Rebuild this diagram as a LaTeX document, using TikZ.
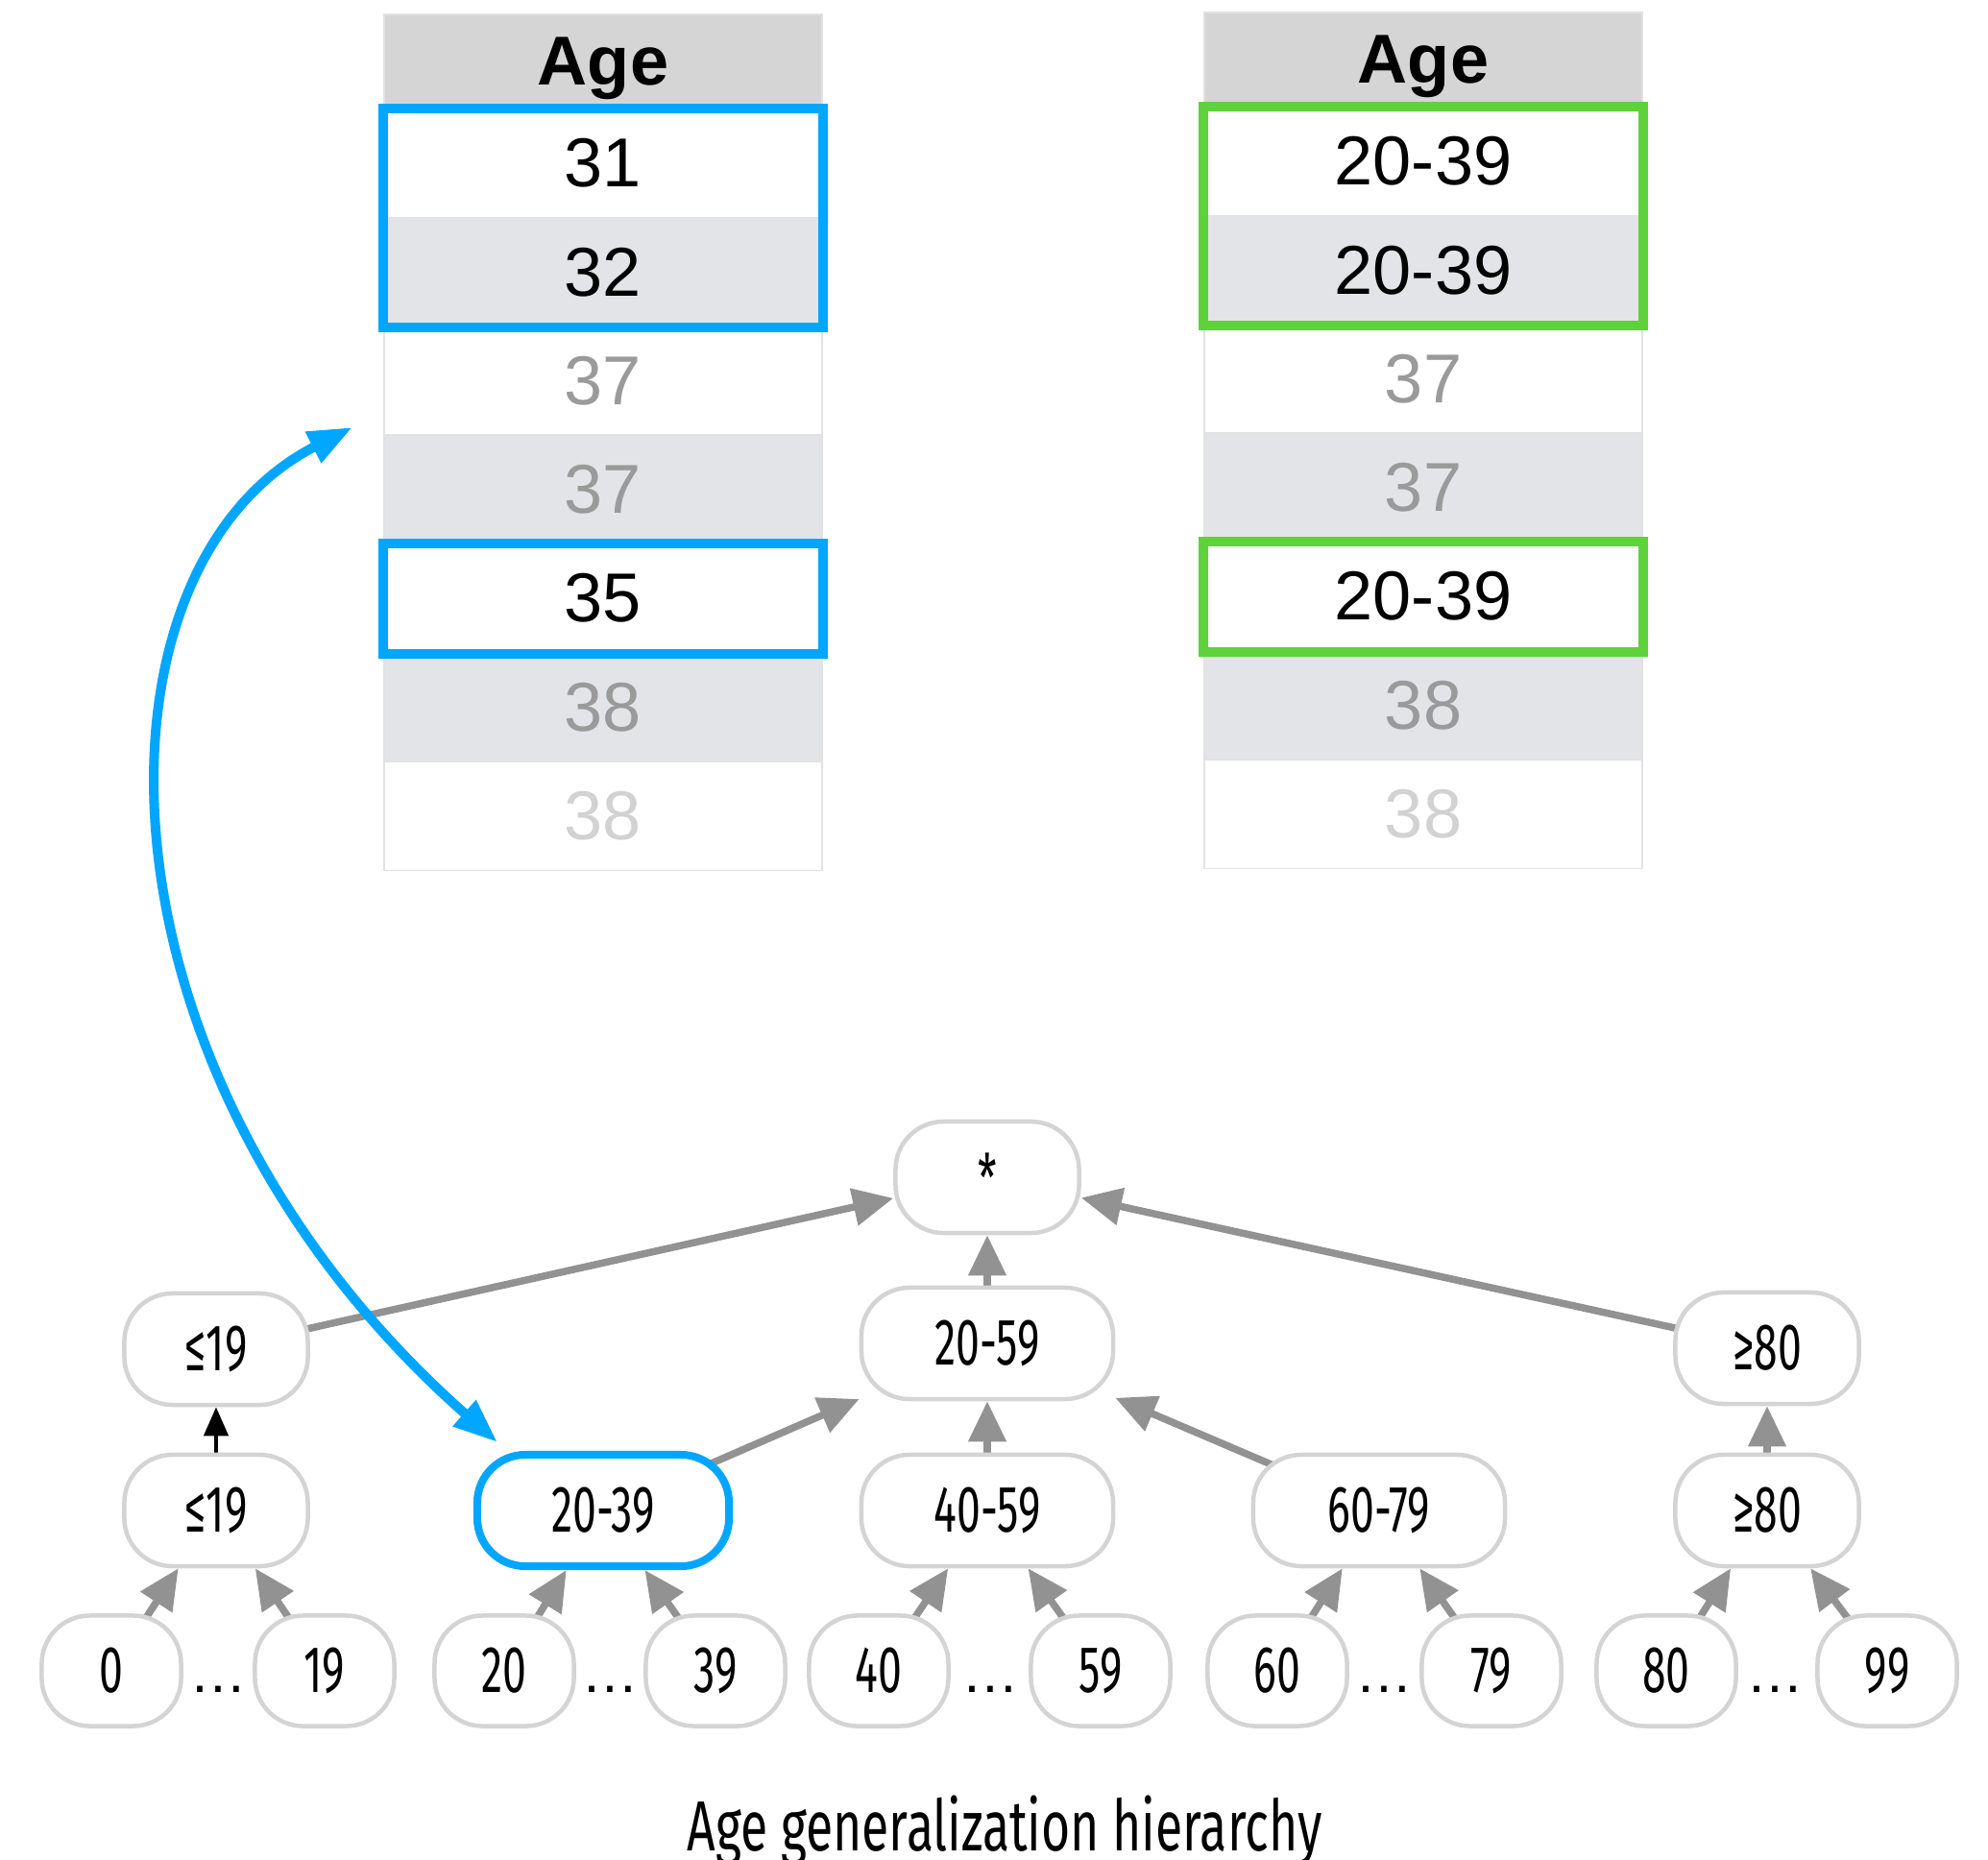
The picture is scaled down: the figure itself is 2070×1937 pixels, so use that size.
\documentclass[tikz,border=0pt]{standalone}
\usepackage{fontspec}
\usetikzlibrary{arrows.meta,backgrounds}

\newfontfamily\tabfont{Liberation Sans}
\newfontfamily\treefont{Fira Sans}[FakeStretch=0.65]
\newfontfamily\capfont{Fira Sans}[FakeStretch=0.7]

\definecolor{hdrgray}{HTML}{D5D5D5}
\definecolor{rowgray}{HTML}{E3E4E7}
\definecolor{cellline}{HTML}{E2E2E2}
\definecolor{txtgray}{HTML}{9A9A9A}
\definecolor{txtpale}{HTML}{D2D2D2}
\definecolor{selblue}{HTML}{00A6FF}
\definecolor{selgreen}{HTML}{5DD23B}
\definecolor{nodeline}{HTML}{D4D4D4}
\definecolor{arrgray}{HTML}{929292}

\tikzset{
  cell/.style={draw=cellline, line width=0.015cm, minimum width=4.56cm, minimum height=1.133cm, inner sep=0pt, font=\tabfont\fontsize{20.5}{24}\selectfont},
  hdr/.style={cell, fill=hdrgray, minimum height=0.98cm, text depth=0pt, font=\tabfont\bfseries\fontsize{20.5}{24}\selectfont},
  selbox/.style={line width=0.1cm},
  tnode/.style={draw=nodeline, fill=white, line width=0.045cm, rounded corners=0.5cm, minimum height=1.16cm, minimum width=1.91cm, inner sep=0pt, font=\treefont\fontsize{19.5}{22}\selectfont},
  rangebox/.style={tnode, minimum width=2.62cm},
  leafbox/.style={tnode, minimum width=1.45cm, minimum height=1.15cm},
  genarrow/.style={-{Triangle[length=0.42cm,width=0.38cm]}, color=arrgray, line width=0.075cm},
  linkarrow/.style={{Triangle[length=0.46cm,width=0.34cm]}-{Triangle[length=0.46cm,width=0.34cm]}, color=selblue, line width=0.1cm},
}

\begin{document}
\begin{tikzpicture}[x=0.01cm, y=-0.01cm]
    \useasboundingbox (0,0) rectangle (2070,1937);

    % the two tables
    \node[hdr] (hL) at (628,64) {Age};
    \node[hdr] (hR) at (1482,62) {Age};
    \foreach \a/\b/\tc/\bg [count=\i] in {31/20-39/black/white, 32/20-39/black/rowgray, 37/37/txtgray/white, 37/37/txtgray/rowgray, 35/20-39/black/white, 38/38/txtgray/rowgray, 38/38/txtpale/white} {
        \node[cell, fill=\bg, text=\tc] (L\i) at (628,{56.65+113.3*\i}) {\a};
        \node[cell, fill=\bg, text=\tc] (R\i) at (1482,{54.65+113.3*\i}) {\b};
    }
    \draw[selbox, selblue] (L1.north west) rectangle (L2.south east);
    \draw[selbox, selblue] (L5.north west) rectangle (L5.south east);
    \draw[selbox, selgreen] (R1.north west) rectangle (R2.south east);
    \draw[selbox, selgreen] (R5.north west) rectangle (R5.south east);

    % hierarchy
    \node[tnode] (star) at (1028,1226) {*};
    \node[rangebox] (r2059) at (1028,1399) {20-59};
    \node[tnode] (le19up) at (225,1405) {≤19};
    \node[tnode] (ge80up) at (1840,1404) {≥80};
    \node[tnode] (le19) at (225,1573) {≤19};
    \node[rangebox, draw=selblue, line width=0.08cm] (r2039) at (628,1573) {20-39};
    \node[rangebox] (r4059) at (1028,1573) {40-59};
    \node[rangebox] (r6079) at (1436,1573) {60-79};
    \node[tnode] (ge80) at (1840,1573) {≥80};
    \foreach \n/\x in {0/116, 19/338, 20/525, 39/745, 40/915, 59/1146, 60/1330, 79/1553, 80/1735, 99/1965}
        \node[leafbox] (v\n) at (\x,1740) {\n};
    \foreach \x [count=\i] in {227,635,1031,1441,1848}
        \node[anchor=base, font=\tabfont\fontsize{17}{20}\selectfont] (dots\i) at (\x,1762) {…};

    \begin{scope}[on background layer]
        \path[genarrow] (le19up.center) edge (star) (ge80up.center) edge (star) (r2059.center) edge (star)
            (r2039.center) edge (r2059) (r4059.center) edge (r2059) (r6079.center) edge (r2059)
            (ge80.center) edge (ge80up);
        \foreach \a/\b in {0/le19, 19/le19, 20/r2039, 39/r2039, 40/r4059, 59/r4059, 60/r6079, 79/r6079, 80/ge80, 99/ge80}
            \path[genarrow] (v\a.center) edge (\b);
        \path[-{Triangle[length=0.3cm,width=0.25cm]}, color=black, line width=0.045cm] (le19.center) edge (le19up);
    \end{scope}

    \coordinate (rowpick) at (367,445);
    \draw[linkarrow] (rowpick) .. controls (80,592) and (86,1121) .. ([xshift=0.25cm,yshift=0.09cm]r2039.north west);

    \node[anchor=base, font=\capfont\fontsize{21}{24}\selectfont] (caption) at (1046,1927) {Age generalization hierarchy};
\end{tikzpicture}
\end{document}
